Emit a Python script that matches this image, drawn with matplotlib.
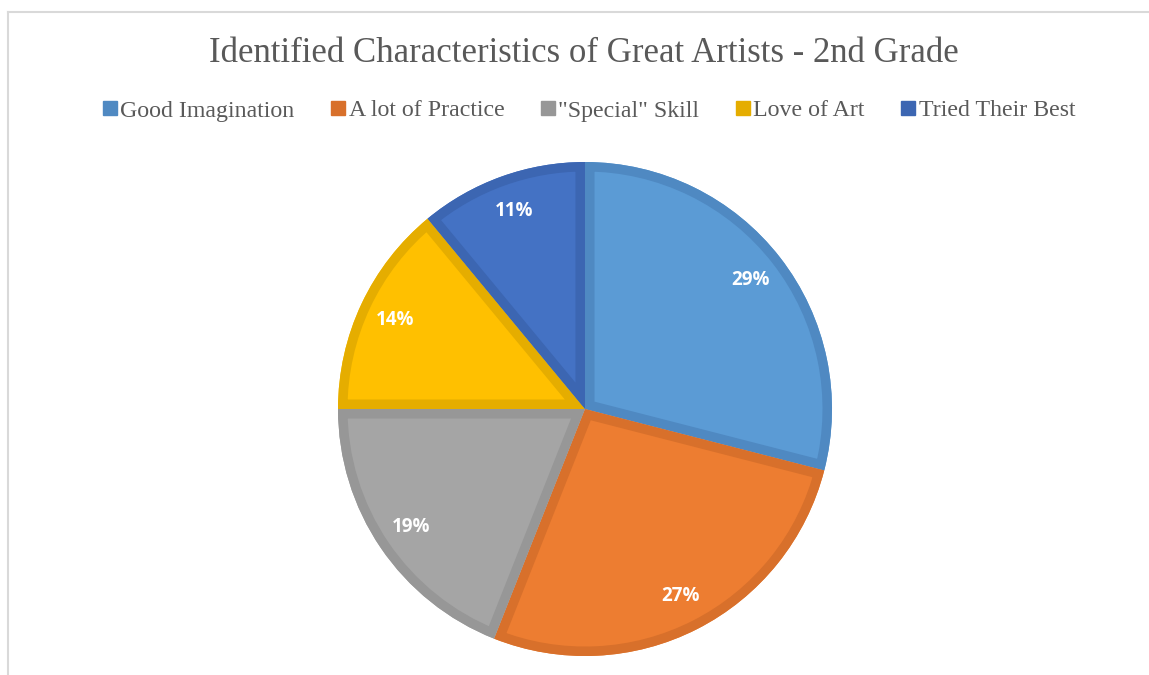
import matplotlib
matplotlib.use("Agg")
import matplotlib.pyplot as plt
from matplotlib.patches import Patch, PathPatch
from matplotlib.lines import Line2D

# ─── Data ────────────────────────────────────────────────────────────────
CATEGORIES = ["Good Imagination", "A lot of Practice", "\"Special\" Skill",
              "Love of Art", "Tried Their Best"]
SHARES     = [29, 27, 19, 14, 11]
FILLS      = ["#5B9BD5", "#ED7D31", "#A5A5A5", "#FFC000", "#4472C4"]
EDGES      = ["#4F89C2", "#D8702B", "#979797", "#E5AD00", "#3C66B2"]
TITLE      = "Identified Characteristics of Great Artists - 2nd Grade"

DPI = 100


def main():
    fig = plt.figure(figsize=(11.49, 6.75), dpi=DPI)
    fig.patch.set_facecolor("white")

    # chart frame (only top and left edges visible in the crop)
    fig.add_artist(Line2D([8 / 1149, 8 / 1149], [0, 1 - 12 / 675],
                          color="#D9D9D9", lw=1.5, transform=fig.transFigure))
    fig.add_artist(Line2D([8 / 1149, 1], [1 - 12 / 675, 1 - 12 / 675],
                          color="#D9D9D9", lw=1.5, transform=fig.transFigure))

    # pie: centre (585, 409) px, radius 247 px
    r_px = 247
    cx, cy = 585, 409
    ax = fig.add_axes([(cx - r_px) / 1149, 1 - (cy + r_px) / 675,
                       2 * r_px / 1149, 2 * r_px / 675])
    wedges, texts = ax.pie(
        SHARES, colors=FILLS, startangle=90, counterclock=False,
        labels=[f"{v}%" for v in SHARES], labeldistance=0.85,
        wedgeprops=dict(linewidth=0),
        textprops=dict(color="white", fontsize=13.5, fontweight="bold",
                       family=["Open Sans", "DejaVu Sans"]),
    )
    for t in texts:
        t.set_ha("center")
        t.set_va("center")
        t.set_zorder(3)

    # darker inset border, clipped to each wedge
    for w, ec in zip(wedges, EDGES):
        border = PathPatch(w.get_path(), transform=w.get_transform(),
                           fill=False, edgecolor=ec,
                           linewidth=19 * 72 / DPI, joinstyle="miter")
        ax.add_patch(border)
        border.set_clip_path(w)
        w.set_zorder(1)
        border.set_zorder(2)
    ax.set_xlim(-1, 1)
    ax.set_ylim(-1, 1)
    ax.set_aspect("equal")
    ax.axis("off")

    fig.text(583.5 / 1149, 1 - 54 / 675, TITLE, ha="center", va="center",
             fontsize=25, color="#595959", family="Liberation Serif")

    handles = [Patch(facecolor=c, edgecolor=c) for c in EDGES]
    fig.legend(handles, CATEGORIES, loc="center", ncol=5,
               bbox_to_anchor=(589 / 1149, 1 - 111 / 675), frameon=False,
               prop=dict(family="Liberation Serif", size=17.2),
               labelcolor="#595959", handlelength=0.58, handleheight=0.58,
               handletextpad=0.15, columnspacing=1.53)

    fig.savefig("out.png", dpi=DPI, facecolor="white")


if __name__ == "__main__":
    main()
